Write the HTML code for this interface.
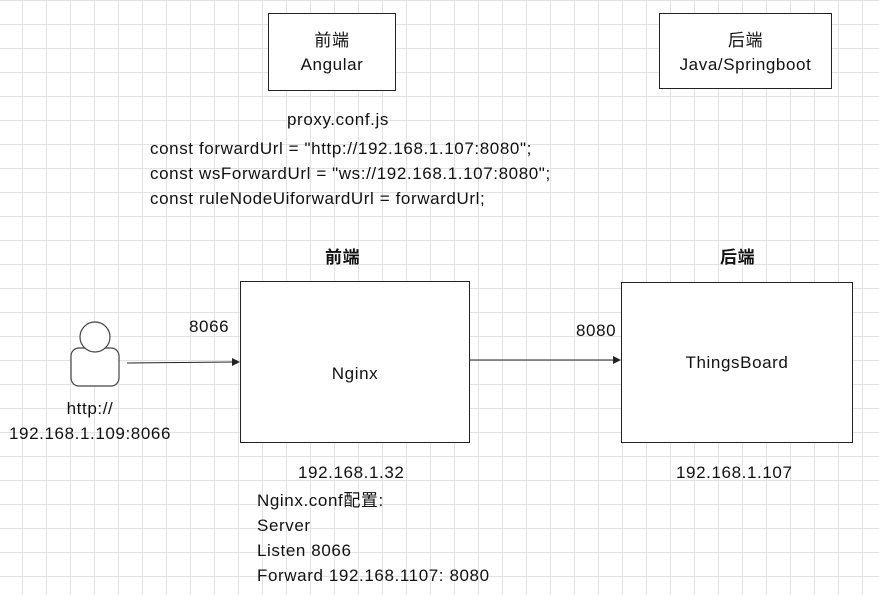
<!DOCTYPE html>
<html><head><meta charset="utf-8"><style>
body{margin:0;width:879px;height:595px;overflow:hidden;background:#fff;
background-image:linear-gradient(#e2e2e2 1px,transparent 1px),linear-gradient(90deg,#e2e2e2 1px,transparent 1px);
background-size:24px 24px;background-position:-2px 0px,22px 0;
font-family:"Liberation Sans","Noto Sans CJK SC",sans-serif;font-size:17px;letter-spacing:0.6px;color:#111;}
.t{position:absolute;white-space:nowrap;line-height:24px}
.b{position:absolute;border:1px solid #222;background:#fff;box-sizing:border-box}
</style></head><body>
<div class="b" style="left:268px;top:13px;width:128px;height:78px"></div>
<div class="t" style="left:268px;top:29px;width:128px;text-align:center">前端<br>Angular</div>
<div class="b" style="left:659px;top:13px;width:173px;height:76px"></div>
<div class="t" style="left:659px;top:29px;width:173px;text-align:center">后端<br>Java/Springboot</div>
<div class="t" style="left:287px;top:108px">proxy.conf.js</div>
<div class="t" style="left:150px;top:136px;line-height:25px">const forwardUrl = "http://192.168.1.107:8080";<br>const wsForwardUrl = "ws://192.168.1.107:8080";<br>const ruleNodeUiforwardUrl = forwardUrl;</div>
<div class="t" style="left:325px;top:246px;font-weight:bold">前端</div>
<div class="t" style="left:720px;top:246px;font-weight:bold">后端</div>
<div class="b" style="left:240px;top:281px;width:230px;height:162px"></div>
<div class="t" style="left:240px;top:362px;width:230px;text-align:center">Nginx</div>
<div class="b" style="left:621px;top:282px;width:232px;height:161px"></div>
<div class="t" style="left:621px;top:351px;width:232px;text-align:center">ThingsBoard</div>
<svg style="position:absolute;left:0;top:0" width="879" height="595">
<rect x="71" y="348" width="48" height="38" rx="8" fill="#fff" stroke="#444" stroke-width="1.2"/>
<circle cx="95" cy="337" r="15" fill="#fff" stroke="#444" stroke-width="1.2"/>
<line x1="127" y1="363" x2="233" y2="362" stroke="#222"/>
<polygon points="240,362 232,358 232,366" fill="#222"/>
<line x1="470" y1="360" x2="614" y2="360" stroke="#222"/>
<polygon points="621,360 613,356 613,364" fill="#222"/>
</svg>
<div class="t" style="left:189px;top:315px">8066</div>
<div class="t" style="left:576px;top:319px">8080</div>
<div class="t" style="left:0;top:396px;width:180px;text-align:center;line-height:25px">http://<br>192.168.1.109:8066</div>
<div class="t" style="left:298px;top:461px">192.168.1.32</div>
<div class="t" style="left:676px;top:461px">192.168.1.107</div>
<div class="t" style="left:257px;top:488px;line-height:25px">Nginx.conf配置:<br>Server<br>Listen 8066<br>Forward 192.168.1107: 8080</div>
</body></html>
